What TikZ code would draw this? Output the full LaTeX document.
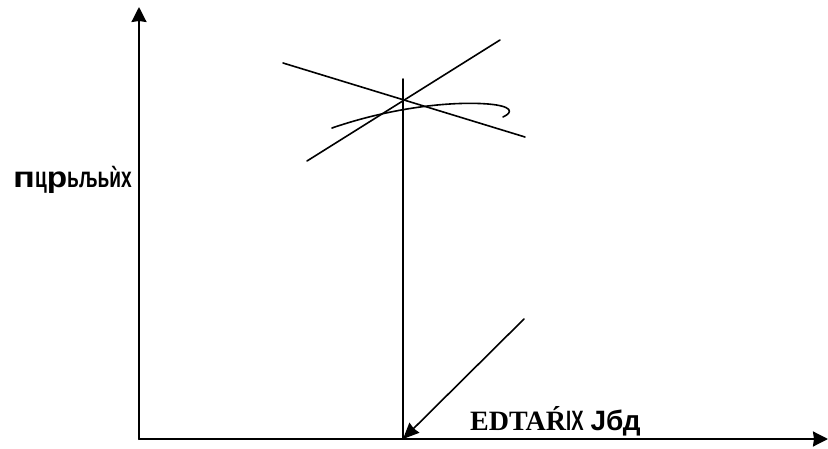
\documentclass[tikz,border=0pt]{standalone}
\usepackage{fontspec}
\setmainfont{Liberation Serif}
\newfontfamily\labsans{Liberation Sans}
\usepackage{graphicx}
\usetikzlibrary{arrows.meta}
\tikzset{
  every picture/.style={line join=round, line cap=round, >=Stealth},
  axis/.style={line width=2pt, -{Stealth[length=15pt,width=15pt,inset=1pt]}},
  curveline/.style={line width=1.6pt},
}
\newcommand{\narrow}[1]{\scalebox{0.66}[1]{#1}}

\begin{document}
\begin{tikzpicture}[x=1pt,y=-1pt]
\useasboundingbox (0,0) rectangle (828,449);
% axes
\coordinate (O) at (139,439);
\coordinate (ytop) at (139,7);
\coordinate (xend) at (828,439);
\draw[axis](O)--(ytop);
\draw[axis](O)--(xend);
% vertical line at the crossing
\coordinate (vtop) at (403,79);
\coordinate (vbot) at (403,439);
\draw[curveline](vbot)--(vtop);
% the two straight lines
\coordinate (dA) at (283,63);
\coordinate (dB) at (525,137);
\coordinate (uA) at (307,161);
\coordinate (uB) at (500,40);
\draw[curveline](dA)--(dB);
\draw[curveline](uA)--(uB);
% the bent curve
\coordinate (cA) at (332,128);
\draw[curveline](cA) .. controls (390,108) and (450,101) .. (488,104)
  .. controls (512,106) and (514,112) .. (503,117);
% arrow to the foot of the line
\coordinate (aS) at (524,319);
\draw[line width=1.6pt,-{Stealth[length=16pt,width=14pt,inset=1pt]}](aS)--(vbot);
% labels
\node[anchor=base west, inner sep=0pt, font=\labsans\bfseries\fontsize{29}{29}\selectfont] (ylab) at (13,188)
  {\scalebox{1.25}[1]{п}\narrow{ц}\scalebox{1.15}[1]{р}\narrow{ьљьѝх}};
\node[anchor=base west, inner sep=0pt, font=\fontsize{28}{28}\selectfont\bfseries] (xlab) at (470,430)
  {EDTAŔ{\labsans\narrow{IХ}} {\labsans Jбд}};
\end{tikzpicture}
\end{document}
